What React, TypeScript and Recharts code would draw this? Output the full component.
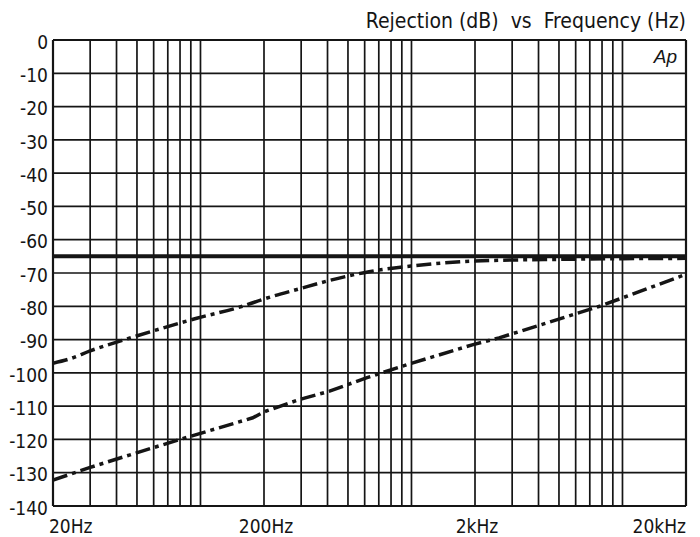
import React from 'react';
import { LineChart, Line, XAxis, YAxis, CartesianGrid, ReferenceLine } from 'recharts';

const gridFreqs = [
  20, 30, 40, 50, 60, 70, 80, 90, 100,
  200, 300, 400, 500, 600, 700, 800, 900, 1000,
  2000, 3000, 4000, 5000, 6000, 7000, 8000, 9000, 10000,
  20000,
];
const xTickLabels: Record<number, string> = { 20: '20Hz', 200: '200Hz', 2000: '2kHz', 20000: '20kHz' };
const yTicks = [0, -10, -20, -30, -40, -50, -60, -70, -80, -90, -100, -110, -120, -130, -140];

const flatFreq = [20, 20000];
const flatDb = [-65, -65];

const upperFreq = [20, 24, 30, 46, 96, 158, 200, 300, 400, 630, 1000, 2000, 5000, 10000, 20000];
const upperDb = [-97.1, -95.8, -93.4, -89.6, -83.6, -80, -77.8, -74.6, -72.4, -69.6, -67.9, -66.4, -65.9, -65.7, -65.6];

const lowerFreq = [20, 27, 30, 46, 80, 177, 200, 295, 409, 611, 980, 1960, 2600, 7800, 20000];
const lowerDb = [-132.2, -129.4, -128.4, -124.7, -120, -113.5, -111.7, -108, -105.5, -101.5, -97.3, -91.5, -89.5, -80, -70.4];

const toData = (fs: number[], vs: number[]) => fs.map((f, i) => ({ f, db: vs[i] }));
const flatData = toData(flatFreq, flatDb);
const upperData = toData(upperFreq, upperDb);
const lowerData = toData(lowerFreq, lowerDb);

const FONT = '"Liberation Sans Narrow", "DejaVu Sans Condensed", "Arial Narrow", sans-serif';
const INK = '#151515';

const XTick = (props: any) => {
  const { x, y, payload } = props;
  const label = xTickLabels[payload.value];
  if (!label) return null;
  let anchor: 'start' | 'middle' | 'end' = 'middle';
  let dx = 2;
  if (payload.value === 20) { anchor = 'start'; dx = -4; }
  else if (payload.value === 20000) { anchor = 'end'; dx = 0; }
  return (
    <text x={x + dx} y={y + 27} textAnchor={anchor} fontFamily={FONT} fontSize={19} fill={INK}>
      {label}
    </text>
  );
};

const YTick = (props: any) => {
  const { x, y, payload } = props;
  return (
    <text x={x - 5} y={y + 2} dy="0.355em" textAnchor="end" fontFamily={FONT} fontSize={19} fill={INK}>
      {String(payload.value)}
    </text>
  );
};

export default function App() {
  return (
    <div style={{ position: 'absolute', left: 0, top: 0, width: 700, height: 537, background: '#fff' }}>
      <LineChart width={700} height={537} margin={{ top: 40, right: 14, bottom: 0, left: 0 }}>
        <CartesianGrid stroke={INK} strokeWidth={1.7} />
        <XAxis
          dataKey="f"
          type="number"
          scale="log"
          domain={[20, 20000]}
          ticks={gridFreqs}
          interval={0}
          allowDataOverflow
          height={31}
          tickLine={false}
          tickSize={0}
          tickMargin={0}
          axisLine={false}
          tick={<XTick />}
        />
        <YAxis
          type="number"
          domain={[-140, 0]}
          ticks={yTicks}
          interval={0}
          width={53}
          tickLine={false}
          tickSize={0}
          tickMargin={0}
          axisLine={false}
          tick={<YTick />}
        />
        <ReferenceLine x={20} stroke={INK} strokeWidth={2.2} />
        <ReferenceLine x={20000} stroke={INK} strokeWidth={2.2} />
        <ReferenceLine y={0} stroke={INK} strokeWidth={2.2} />
        <ReferenceLine y={-140} stroke={INK} strokeWidth={2.2} />
        <Line data={flatData} dataKey="db" stroke={INK} strokeWidth={4} dot={false} isAnimationActive={false} type="linear" />
        <Line data={upperData} dataKey="db" stroke={INK} strokeWidth={3.5} strokeDasharray="15 5 4 5" dot={false} isAnimationActive={false} type="monotone" />
        <Line data={lowerData} dataKey="db" stroke={INK} strokeWidth={3.5} strokeDasharray="15 5 4 5" dot={false} isAnimationActive={false} type="linear" />
      </LineChart>
      <svg width={700} height={537} style={{ position: 'absolute', left: 0, top: 0, pointerEvents: 'none' }}>
        <text x={686} y={28} textAnchor="end" fontFamily={FONT} fontSize={21} fill={INK} style={{ whiteSpace: 'pre' }}>
          {'Rejection (dB)  vs  Frequency (Hz)'}
        </text>
        <text x={677} y={63} textAnchor="end" fontFamily={'"Liberation Sans", Arial, sans-serif'} fontStyle="italic" fontSize={19} fill={INK}>
          Ap
        </text>
      </svg>
    </div>
  );
}
